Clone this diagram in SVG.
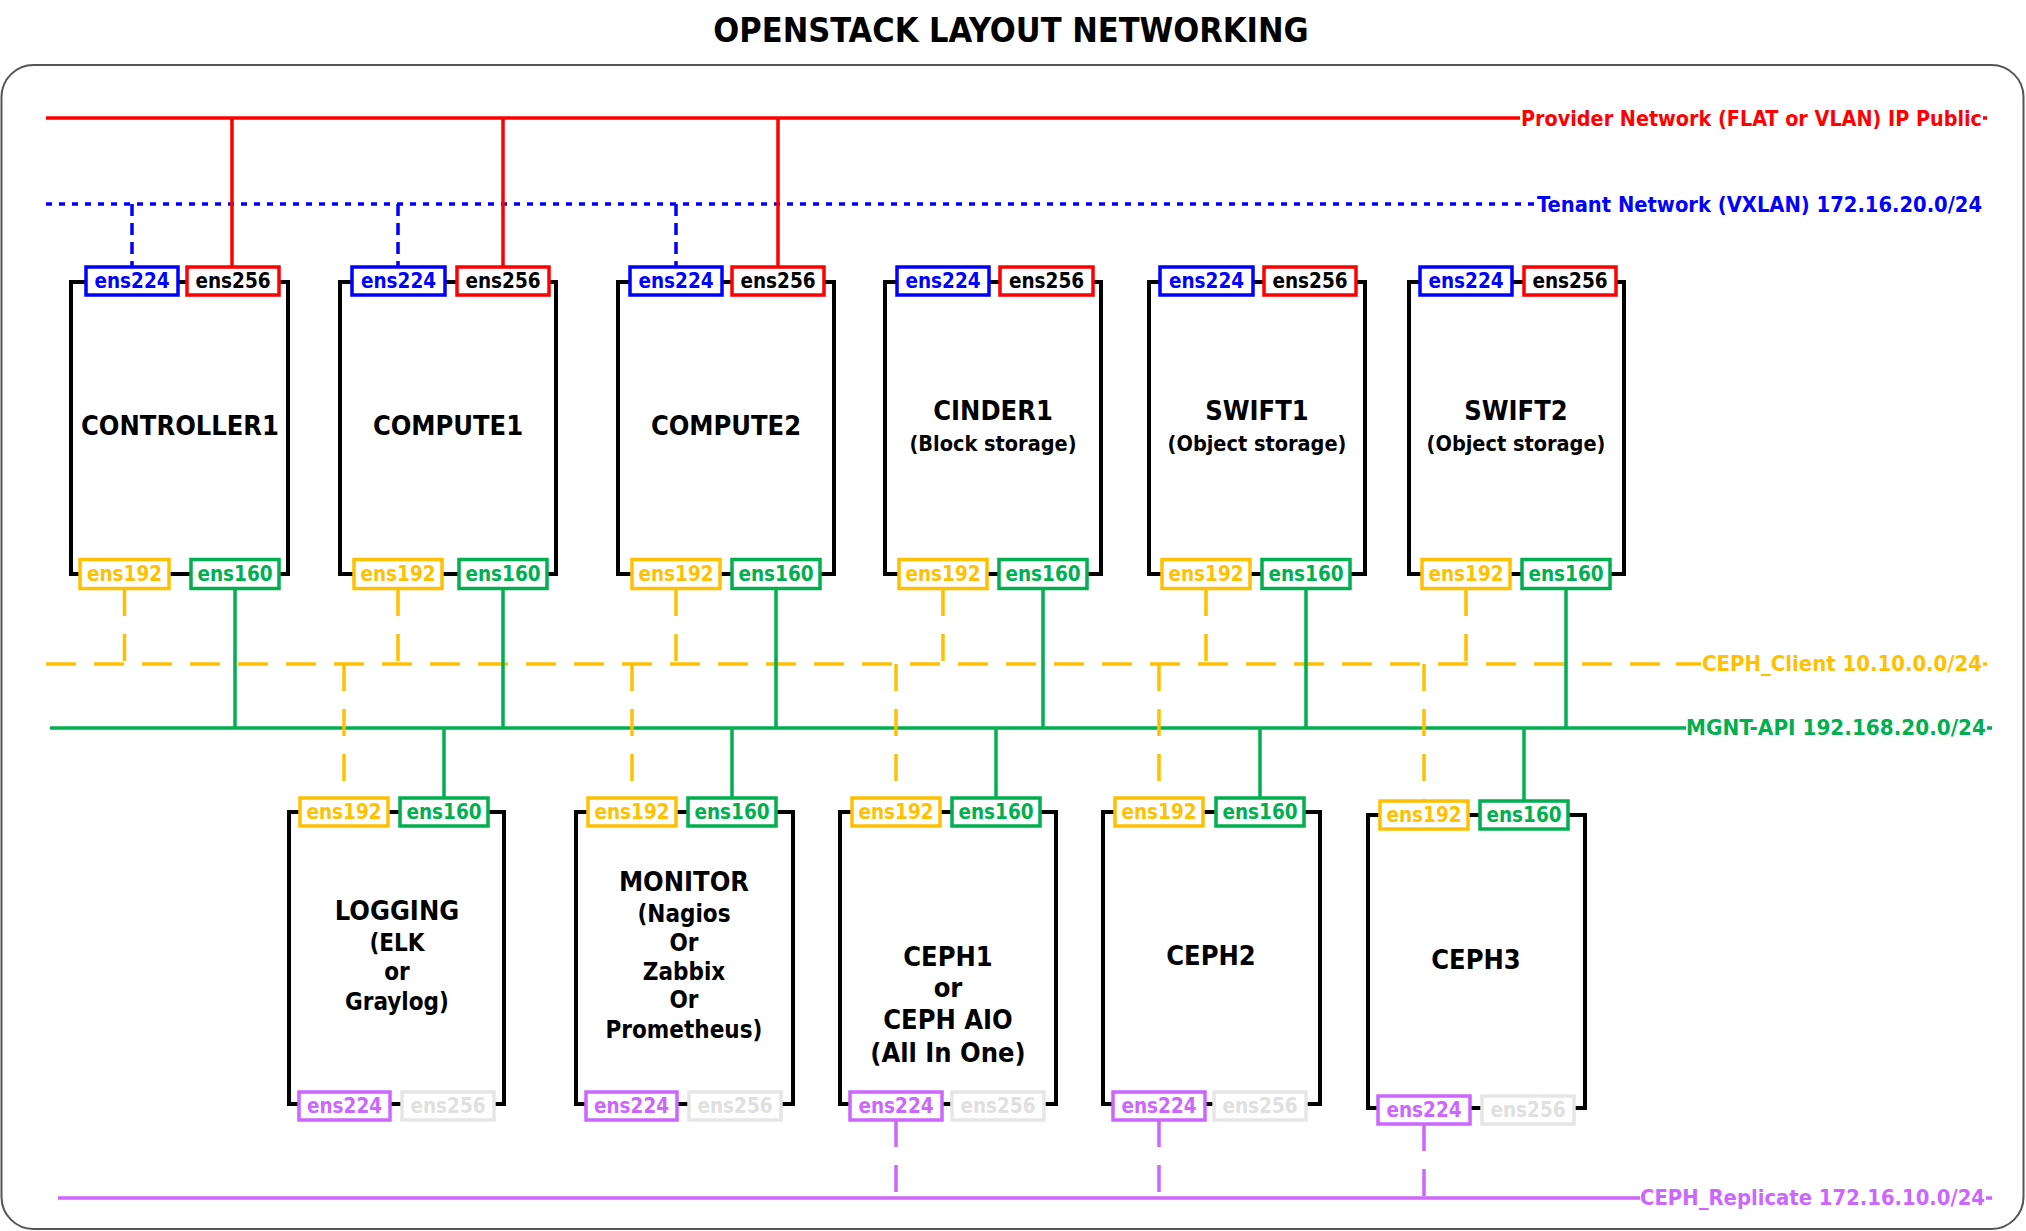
<svg xmlns="http://www.w3.org/2000/svg" width="2026" height="1231" viewBox="0 0 2026 1231">
<style>
.t{font-family:"DejaVu Sans Condensed","DejaVu Sans",sans-serif;font-stretch:condensed;font-weight:bold}
.c{text-anchor:middle}
.node{fill:#fff;stroke:#000;stroke-width:4}
.p{fill:#fff;stroke-width:3.5}
.pt{font-size:20.5px;text-anchor:middle}
.nm{font-size:27px;fill:#000;text-anchor:middle}
.sb{font-size:21.5px;fill:#000;text-anchor:middle}
.s2{font-size:24px;fill:#000;text-anchor:middle}
.lab{font-size:22px}
.red{stroke:#FF0000}.redt{fill:#FF0000}
.blu{stroke:#0000FF}.blut{fill:#0000FF}
.yel{stroke:#FFC000}.yelt{fill:#FFC000}
.grn{stroke:#00B050}.grnt{fill:#00B050}
.pur{stroke:#CC66FF}.purt{fill:#CC66FF}
.gry{stroke:#E6E6E6}.gryt{fill:#E0E0E0}
.blk{fill:#000}
.ln{fill:none;stroke-width:3.5}
.dot{stroke-dasharray:6 7}
.dsh{stroke-dasharray:12 7}
.ydash{stroke-dasharray:30 18}
.vdash{stroke-dasharray:27 18}
</style>
<rect x="1.5" y="65" width="2022" height="1164" rx="32" ry="32" fill="#fff" stroke="#555" stroke-width="2"/>
<text class="t c" x="1011" y="42" font-size="34" fill="#000">OPENSTACK LAYOUT NETWORKING</text>

<g id="connectors">
  <line class="ln red" x1="46" y1="118" x2="1520" y2="118"/>
  <line class="ln red" x1="1983" y1="118" x2="1987" y2="118"/>
  <line class="ln blu dot" x1="46" y1="204" x2="1534" y2="204"/>
  <line class="ln yel ydash" x1="46" y1="664" x2="1676" y2="664"/>
  <line class="ln yel" x1="1676" y1="664" x2="1701" y2="664"/>
  <line class="ln yel" x1="1983" y1="664" x2="1987" y2="664"/>
  <line class="ln grn" x1="50" y1="728" x2="1686" y2="728"/>
  <line class="ln grn" x1="1987" y1="728" x2="1992" y2="728"/>
  <line class="ln pur" x1="58" y1="1198" x2="1640" y2="1198"/>
  <line class="ln pur" x1="1986" y1="1198" x2="1992" y2="1198"/>
  <line class="ln red" x1="232" y1="118" x2="232" y2="267"/>
  <line class="ln red" x1="503" y1="118" x2="503" y2="267"/>
  <line class="ln red" x1="778" y1="118" x2="778" y2="267"/>
  <line class="ln blu dsh" x1="132" y1="204" x2="132" y2="267"/>
  <line class="ln blu dsh" x1="398" y1="204" x2="398" y2="267"/>
  <line class="ln blu dsh" x1="676" y1="204" x2="676" y2="267"/>
  <line class="ln yel vdash" x1="124.5" y1="589" x2="124.5" y2="664"/>
  <line class="ln yel vdash" x1="398" y1="589" x2="398" y2="664"/>
  <line class="ln yel vdash" x1="676" y1="589" x2="676" y2="664"/>
  <line class="ln yel vdash" x1="943" y1="589" x2="943" y2="664"/>
  <line class="ln yel vdash" x1="1206" y1="589" x2="1206" y2="664"/>
  <line class="ln yel vdash" x1="1466" y1="589" x2="1466" y2="664"/>
  <line class="ln grn" x1="235" y1="589" x2="235" y2="728"/>
  <line class="ln grn" x1="503" y1="589" x2="503" y2="728"/>
  <line class="ln grn" x1="776" y1="589" x2="776" y2="728"/>
  <line class="ln grn" x1="1043" y1="589" x2="1043" y2="728"/>
  <line class="ln grn" x1="1306" y1="589" x2="1306" y2="728"/>
  <line class="ln grn" x1="1566" y1="589" x2="1566" y2="728"/>
  <line class="ln yel vdash" x1="344" y1="664" x2="344" y2="798"/>
  <line class="ln yel vdash" x1="632" y1="664" x2="632" y2="798"/>
  <line class="ln yel vdash" x1="896" y1="664" x2="896" y2="798"/>
  <line class="ln yel vdash" x1="1159" y1="664" x2="1159" y2="798"/>
  <line class="ln yel vdash" x1="1424" y1="664" x2="1424" y2="801"/>
  <line class="ln grn" x1="444" y1="728" x2="444" y2="798"/>
  <line class="ln grn" x1="732" y1="728" x2="732" y2="798"/>
  <line class="ln grn" x1="996" y1="728" x2="996" y2="798"/>
  <line class="ln grn" x1="1260" y1="728" x2="1260" y2="798"/>
  <line class="ln grn" x1="1524" y1="728" x2="1524" y2="801"/>
  <line class="ln pur vdash" x1="896" y1="1120" x2="896" y2="1198"/>
  <line class="ln pur vdash" x1="1159" y1="1120" x2="1159" y2="1198"/>
  <line class="ln pur vdash" x1="1424" y1="1124" x2="1424" y2="1198"/>
</g>

<g id="network-labels" class="t lab">
  <text class="redt" x="1521" y="126" textLength="461" lengthAdjust="spacingAndGlyphs">Provider Network (FLAT or VLAN) IP Public</text>
  <text class="blut" x="1537" y="212" textLength="445" lengthAdjust="spacingAndGlyphs">Tenant Network (VXLAN) 172.16.20.0/24</text>
  <text class="yelt" x="1702" y="671" textLength="280" lengthAdjust="spacingAndGlyphs">CEPH_Client 10.10.0.0/24</text>
  <text class="grnt" x="1686" y="735" textLength="300" lengthAdjust="spacingAndGlyphs">MGNT-API 192.168.20.0/24</text>
  <text class="purt" x="1640" y="1205" textLength="345" lengthAdjust="spacingAndGlyphs">CEPH_Replicate 172.16.10.0/24</text>
</g>

<g id="controller1" class="t">
  <rect class="node" x="71" y="282" width="217" height="292"/>
  <rect class="p blu" x="86" y="267" width="92" height="28"/><text class="pt blut" x="132" y="288">ens224</text>
  <rect class="p red" x="187" y="267" width="92" height="28"/><text class="pt blk" x="233" y="288">ens256</text>
  <rect class="p yel" x="80" y="559.5" width="89" height="29"/><text class="pt yelt" x="124.5" y="581">ens192</text>
  <rect class="p grn" x="191" y="559.5" width="88" height="29"/><text class="pt grnt" x="235" y="581">ens160</text>
  <text class="nm" x="180" y="435">CONTROLLER1</text>
</g>
<g id="compute1" class="t">
  <rect class="node" x="340" y="282" width="216" height="292"/>
  <rect class="p blu" x="352" y="267" width="93" height="28"/><text class="pt blut" x="398.5" y="288">ens224</text>
  <rect class="p red" x="457" y="267" width="92" height="28"/><text class="pt blk" x="503" y="288">ens256</text>
  <rect class="p yel" x="354" y="559.5" width="88" height="29"/><text class="pt yelt" x="398" y="581">ens192</text>
  <rect class="p grn" x="459" y="559.5" width="88" height="29"/><text class="pt grnt" x="503" y="581">ens160</text>
  <text class="nm" x="448" y="435">COMPUTE1</text>
</g>
<g id="compute2" class="t">
  <rect class="node" x="618" y="282" width="216" height="292"/>
  <rect class="p blu" x="630" y="267" width="92" height="28"/><text class="pt blut" x="676" y="288">ens224</text>
  <rect class="p red" x="732" y="267" width="92" height="28"/><text class="pt blk" x="778" y="288">ens256</text>
  <rect class="p yel" x="632" y="559.5" width="88" height="29"/><text class="pt yelt" x="676" y="581">ens192</text>
  <rect class="p grn" x="732" y="559.5" width="88" height="29"/><text class="pt grnt" x="776" y="581">ens160</text>
  <text class="nm" x="726" y="435">COMPUTE2</text>
</g>
<g id="cinder1" class="t">
  <rect class="node" x="885" y="282" width="216" height="292"/>
  <rect class="p blu" x="897" y="267" width="92" height="28"/><text class="pt blut" x="943" y="288">ens224</text>
  <rect class="p red" x="1000" y="267" width="93" height="28"/><text class="pt blk" x="1046.5" y="288">ens256</text>
  <rect class="p yel" x="899" y="559.5" width="88" height="29"/><text class="pt yelt" x="943" y="581">ens192</text>
  <rect class="p grn" x="999" y="559.5" width="88" height="29"/><text class="pt grnt" x="1043" y="581">ens160</text>
  <text class="nm" x="993" y="420">CINDER1</text>
  <text class="sb" x="993" y="451">(Block storage)</text>
</g>
<g id="swift1" class="t">
  <rect class="node" x="1149" y="282" width="216" height="292"/>
  <rect class="p blu" x="1160" y="267" width="93" height="28"/><text class="pt blut" x="1206.5" y="288">ens224</text>
  <rect class="p red" x="1264" y="267" width="92" height="28"/><text class="pt blk" x="1310" y="288">ens256</text>
  <rect class="p yel" x="1162" y="559.5" width="88" height="29"/><text class="pt yelt" x="1206" y="581">ens192</text>
  <rect class="p grn" x="1262" y="559.5" width="88" height="29"/><text class="pt grnt" x="1306" y="581">ens160</text>
  <text class="nm" x="1257" y="420">SWIFT1</text>
  <text class="sb" x="1257" y="451">(Object storage)</text>
</g>
<g id="swift2" class="t">
  <rect class="node" x="1409" y="282" width="215" height="292"/>
  <rect class="p blu" x="1420" y="267" width="92" height="28"/><text class="pt blut" x="1466" y="288">ens224</text>
  <rect class="p red" x="1524" y="267" width="92" height="28"/><text class="pt blk" x="1570" y="288">ens256</text>
  <rect class="p yel" x="1422" y="559.5" width="88" height="29"/><text class="pt yelt" x="1466" y="581">ens192</text>
  <rect class="p grn" x="1522" y="559.5" width="88" height="29"/><text class="pt grnt" x="1566" y="581">ens160</text>
  <text class="nm" x="1516" y="420">SWIFT2</text>
  <text class="sb" x="1516" y="451">(Object storage)</text>
</g>

<g id="logging" class="t">
  <rect class="node" x="289" y="812" width="215" height="292"/>
  <rect class="p yel" x="300" y="798" width="88" height="28"/><text class="pt yelt" x="344" y="819">ens192</text>
  <rect class="p grn" x="400" y="798" width="88" height="28"/><text class="pt grnt" x="444" y="819">ens160</text>
  <rect class="p pur" x="299" y="1092" width="91" height="28"/><text class="pt purt" x="344.5" y="1113">ens224</text>
  <rect class="p gry" x="402" y="1092" width="92" height="28"/><text class="pt gryt" x="448" y="1113">ens256</text>
  <text class="nm" x="397" y="920">LOGGING</text>
  <text class="s2" x="397" y="951">(ELK</text>
  <text class="s2" x="397" y="980">or</text>
  <text class="s2" x="397" y="1010">Graylog)</text>
</g>
<g id="monitor" class="t">
  <rect class="node" x="576" y="812" width="217" height="292"/>
  <rect class="p yel" x="588" y="798" width="88" height="28"/><text class="pt yelt" x="632" y="819">ens192</text>
  <rect class="p grn" x="688" y="798" width="88" height="28"/><text class="pt grnt" x="732" y="819">ens160</text>
  <rect class="p pur" x="586" y="1092" width="91" height="28"/><text class="pt purt" x="631.5" y="1113">ens224</text>
  <rect class="p gry" x="689" y="1092" width="92" height="28"/><text class="pt gryt" x="735" y="1113">ens256</text>
  <text class="nm" x="684" y="891">MONITOR</text>
  <text class="s2" x="684" y="922">(Nagios</text>
  <text class="s2" x="684" y="951">Or</text>
  <text class="s2" x="684" y="980">Zabbix</text>
  <text class="s2" x="684" y="1008">Or</text>
  <text class="s2" x="684" y="1038">Prometheus)</text>
</g>
<g id="ceph1" class="t">
  <rect class="node" x="840" y="812" width="216" height="292"/>
  <rect class="p yel" x="852" y="798" width="88" height="28"/><text class="pt yelt" x="896" y="819">ens192</text>
  <rect class="p grn" x="952" y="798" width="88" height="28"/><text class="pt grnt" x="996" y="819">ens160</text>
  <rect class="p pur" x="850" y="1092" width="92" height="28"/><text class="pt purt" x="896" y="1113">ens224</text>
  <rect class="p gry" x="952" y="1092" width="92" height="28"/><text class="pt gryt" x="998" y="1113">ens256</text>
  <text class="nm" x="948" y="966">CEPH1</text>
  <text class="nm" x="948" y="997">or</text>
  <text class="nm" x="948" y="1029">CEPH AIO</text>
  <text class="nm" x="948" y="1062">(All In One)</text>
</g>
<g id="ceph2" class="t">
  <rect class="node" x="1103" y="812" width="217" height="292"/>
  <rect class="p yel" x="1115" y="798" width="88" height="28"/><text class="pt yelt" x="1159" y="819">ens192</text>
  <rect class="p grn" x="1216" y="798" width="88" height="28"/><text class="pt grnt" x="1260" y="819">ens160</text>
  <rect class="p pur" x="1113" y="1092" width="92" height="28"/><text class="pt purt" x="1159" y="1113">ens224</text>
  <rect class="p gry" x="1214" y="1092" width="92" height="28"/><text class="pt gryt" x="1260" y="1113">ens256</text>
  <text class="nm" x="1211" y="965">CEPH2</text>
</g>
<g id="ceph3" class="t">
  <rect class="node" x="1368" y="815" width="217" height="293"/>
  <rect class="p yel" x="1380" y="801" width="88" height="28"/><text class="pt yelt" x="1424" y="822">ens192</text>
  <rect class="p grn" x="1480" y="801" width="88" height="28"/><text class="pt grnt" x="1524" y="822">ens160</text>
  <rect class="p pur" x="1378" y="1096" width="92" height="28"/><text class="pt purt" x="1424" y="1117">ens224</text>
  <rect class="p gry" x="1482" y="1096" width="92" height="28"/><text class="pt gryt" x="1528" y="1117">ens256</text>
  <text class="nm" x="1476" y="969">CEPH3</text>
</g>
</svg>
